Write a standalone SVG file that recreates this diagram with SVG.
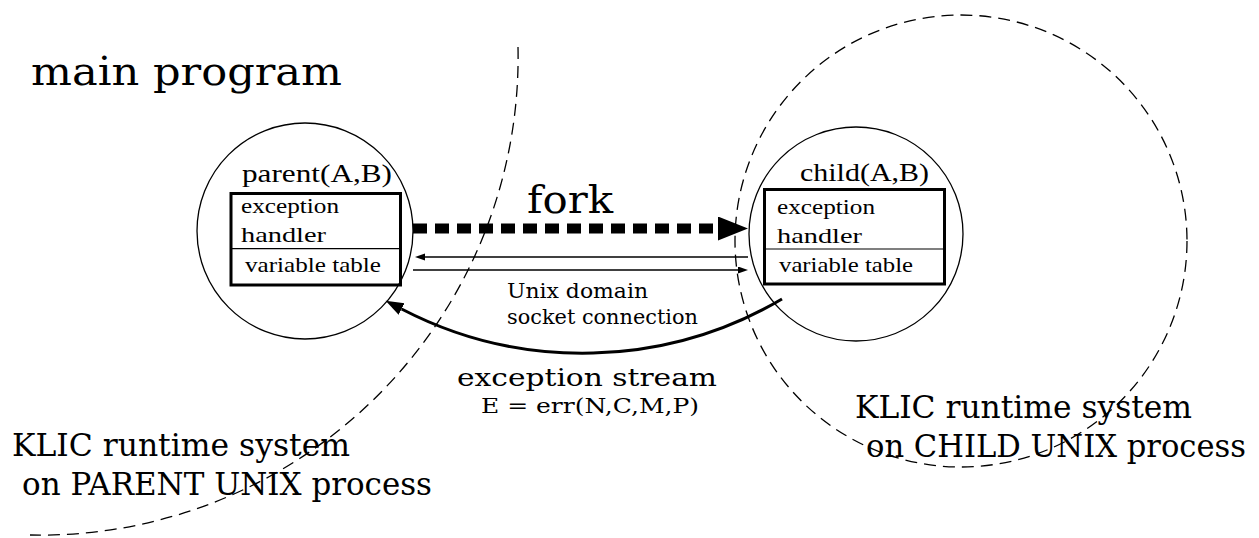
<svg xmlns="http://www.w3.org/2000/svg" width="1259" height="538" viewBox="0 0 1259 538">
  <style>
    .bg { fill: #ffffff; }
    .tm { font-family: "Liberation Serif", "Times New Roman", serif; fill: #000; }
    .sb { font-family: "DejaVu Serif", "Liberation Serif", serif; fill: #000; }
    .circle { fill: none; stroke: #000; stroke-width: 1.3; }
    .region { fill: none; stroke: #000; stroke-width: 1.3; stroke-dasharray: 12 7; }
    .box { fill: none; stroke: #000; stroke-width: 3; }
    .divider { stroke: #000; stroke-width: 1.2; }
    .thin { fill: none; stroke: #000; stroke-width: 1.3; }
    .fork { fill: none; stroke: #000; stroke-width: 10; stroke-dasharray: 14 8; }
    .stream { fill: none; stroke: #000; stroke-width: 3; }
  </style>
  <defs>
    <marker id="bigHead" markerUnits="userSpaceOnUse" markerWidth="32" markerHeight="26" refX="0" refY="12" orient="auto">
      <path d="M0,0 L30,12 L0,24 z" fill="#000"/>
    </marker>
    <marker id="smallHead" markerUnits="userSpaceOnUse" markerWidth="12" markerHeight="8" refX="0" refY="3.5" orient="auto">
      <path d="M0,0 L10,3.5 L0,7 z" fill="#000"/>
    </marker>
    <marker id="streamHead" markerUnits="userSpaceOnUse" markerWidth="20" markerHeight="14" refX="0" refY="6.5" orient="auto">
      <path d="M0,0 L18,6.5 L0,13 z" fill="#000"/>
    </marker>
  </defs>

  <rect class="bg" x="0" y="0" width="1259" height="538"/>

  <!-- process regions -->
  <g id="parent-process">
    <path class="region" d="M518,47 A478,478 0 0,1 30,535"/>
    <text class="sb" x="31" y="85" font-size="40" textLength="311" lengthAdjust="spacingAndGlyphs">main program</text>
    <text class="sb" x="12" y="456" font-size="31" textLength="338" lengthAdjust="spacingAndGlyphs">KLIC runtime system</text>
    <text class="sb" x="22" y="495" font-size="31" textLength="410" lengthAdjust="spacingAndGlyphs">on PARENT UNIX process</text>
  </g>

  <g id="child-process">
    <circle class="region" cx="961" cy="241" r="226"/>
    <text class="sb" x="855" y="418" font-size="31" textLength="337" lengthAdjust="spacingAndGlyphs">KLIC runtime system</text>
    <text class="sb" x="866" y="457" font-size="31" textLength="380" lengthAdjust="spacingAndGlyphs">on CHILD UNIX process</text>
  </g>

  <!-- parent goal -->
  <g id="parent">
    <circle class="circle" cx="305" cy="231" r="108"/>
    <text class="tm" x="242" y="182" font-size="25" textLength="150" lengthAdjust="spacingAndGlyphs">parent(A,B)</text>
    <rect class="box" x="231" y="193.5" width="169.5" height="91.5"/>
    <line class="divider" x1="231" y1="248.7" x2="400.5" y2="248.7"/>
    <text class="tm" x="241" y="213" font-size="21" textLength="98" lengthAdjust="spacingAndGlyphs">exception</text>
    <text class="tm" x="241" y="242" font-size="21" textLength="85" lengthAdjust="spacingAndGlyphs">handler</text>
    <text class="tm" x="245" y="272" font-size="21" textLength="136" lengthAdjust="spacingAndGlyphs">variable table</text>
  </g>

  <!-- child goal -->
  <g id="child">
    <circle class="circle" cx="856" cy="234" r="107"/>
    <text class="tm" x="800" y="181" font-size="25" textLength="129" lengthAdjust="spacingAndGlyphs">child(A,B)</text>
    <rect class="box" x="764.5" y="189.5" width="180" height="94.5"/>
    <line class="divider" x1="764.5" y1="249" x2="946" y2="249"/>
    <text class="tm" x="777" y="213.5" font-size="21" textLength="98" lengthAdjust="spacingAndGlyphs">exception</text>
    <text class="tm" x="777" y="243" font-size="21" textLength="85" lengthAdjust="spacingAndGlyphs">handler</text>
    <text class="tm" x="779" y="272" font-size="21" textLength="134" lengthAdjust="spacingAndGlyphs">variable table</text>
  </g>

  <!-- connectors -->
  <g id="connectors">
    <path class="fork" d="M413,228.5 L718,228.5" marker-end="url(#bigHead)"/>
    <line class="thin" x1="748" y1="257" x2="425" y2="257" marker-end="url(#smallHead)"/>
    <line class="thin" x1="413" y1="270" x2="738" y2="270" marker-end="url(#smallHead)"/>
    <path class="stream" d="M782,299 A393,393 0 0,1 401.6,309" marker-end="url(#streamHead)"/>
  </g>

  <!-- connector labels -->
  <g id="labels">
    <text class="sb" x="527" y="213" font-size="40" textLength="86" lengthAdjust="spacingAndGlyphs">fork</text>
    <text class="sb" x="507" y="298" font-size="20.5" textLength="141" lengthAdjust="spacingAndGlyphs">Unix domain</text>
    <text class="sb" x="507" y="324" font-size="20.5" textLength="191" lengthAdjust="spacingAndGlyphs">socket connection</text>
    <text class="sb" x="457" y="386" font-size="25" textLength="260" lengthAdjust="spacingAndGlyphs">exception stream</text>
    <text class="sb" x="481" y="413" font-size="21" textLength="218" lengthAdjust="spacingAndGlyphs">E = err(N,C,M,P)</text>
  </g>
</svg>
